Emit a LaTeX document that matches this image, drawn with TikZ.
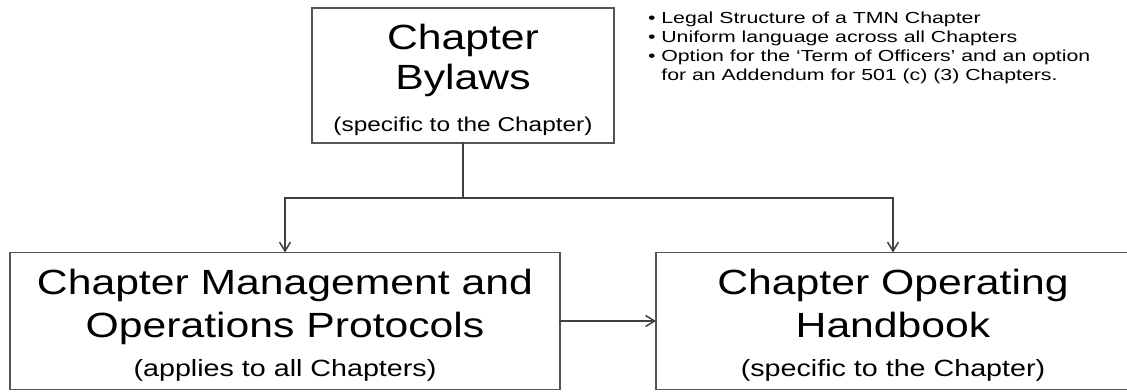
\documentclass[tikz,border=0pt]{standalone}
\usepackage{fontspec}
\setmainfont{Liberation Sans}
\newfontfamily\chapfont[FakeStretch=1.22]{Liberation Sans}
\newfontfamily\notefont[FakeStretch=1.33]{Liberation Sans}
\usetikzlibrary{arrows.meta}
\begin{document}
\begin{tikzpicture}[x=1pt,y=-1pt,line cap=rect]
\useasboundingbox (0,0) rectangle (1127,391);
\definecolor{custcol_0_0_0}{RGB}{0, 0, 0}
\definecolor{custcol_55_55_55}{RGB}{85, 85, 85}
\definecolor{custcol_40_40_40}{RGB}{64, 64, 64}
\tikzset{
  docbox/.style={draw=custcol_55_55_55, line width=1.5pt, inner sep=0, outer sep=0,
    align=center, text=custcol_0_0_0, font=\chapfont\fontsize{35pt}{40pt}\selectfont},
  link/.style={draw=custcol_40_40_40, line width=1.5pt, -{Straight Barb[length=9pt,width=11pt]}},
}
\def\subtext#1#2{{\fontsize{#1}{24pt}\selectfont #2}}
\def\topgap#1{\rule{0pt}{#1}}
\node[docbox, minimum width=302pt, minimum height=135pt] (bylaws) at (463,75.5)
  {\topgap{34pt}Chapter\\Bylaws\\[2pt]\subtext{20pt}{(specific to the Chapter)}};
\node[docbox, minimum width=550pt, minimum height=137pt] (mgmt) at (285,321)
  {\topgap{33pt}Chapter Management and\\[3pt]Operations Protocols\\[-1pt]\subtext{23.5pt}{(applies to all Chapters)}};
\node[docbox, minimum width=474pt, minimum height=137pt] (handbook) at (893,321)
  {\topgap{33pt}Chapter Operating\\[3pt]Handbook\\[-1pt]\subtext{23.5pt}{(specific to the Chapter)}};
\node[inner sep=0, outer sep=0, anchor=north west, align=left, text=custcol_0_0_0,
  font=\notefont\fontsize{16pt}{19pt}\selectfont] (notes) at (648,12)
  {• Legal Structure of a TMN Chapter\\
   • Uniform  language across all Chapters\\
   • Option for the ‘Term of Officers’ and an option\\
   \phantom{• }for an Addendum for 501 (c) (3) Chapters.};
\path (bylaws.south) ++(0,55) coordinate (split);
\draw [link] (bylaws.south) -- (split) -| (mgmt.north);
\draw [link] (split) -| (handbook.north);
\draw [link] (mgmt.east) -- (handbook.west);
\end{tikzpicture}
\end{document}
